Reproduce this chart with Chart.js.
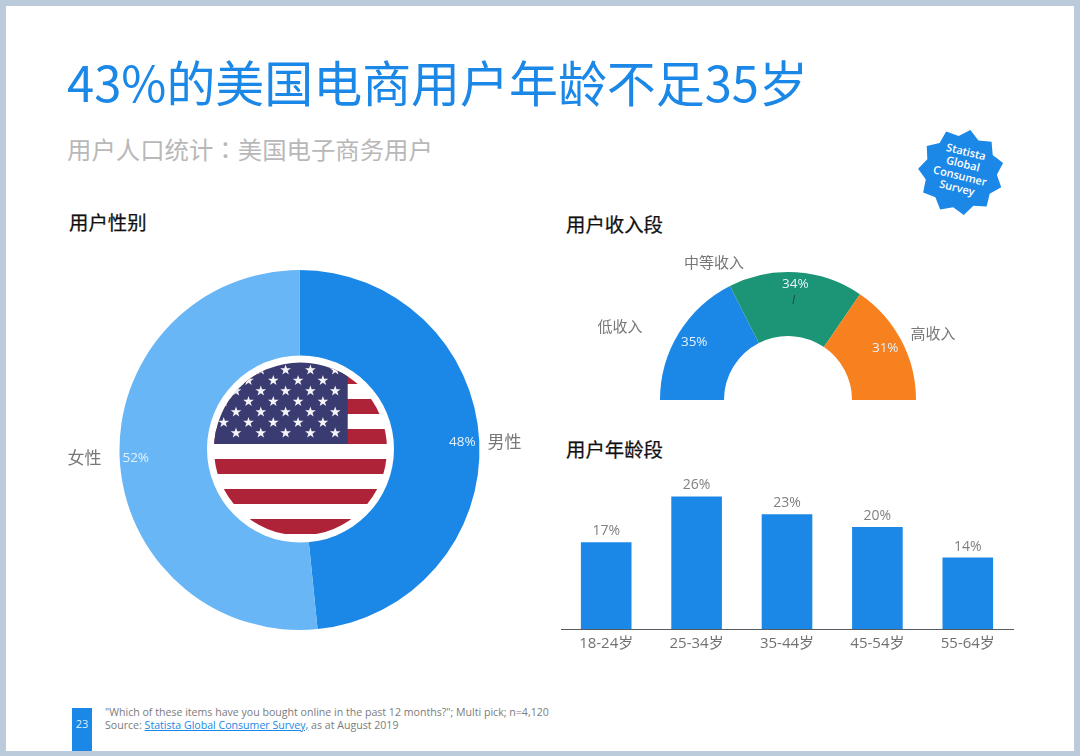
<!DOCTYPE html>
<html lang="zh">
<head>
<meta charset="utf-8">
<title>43%的美国电商用户年龄不足35岁</title>
<script src="https://cdn.jsdelivr.net/npm/chart.js@4/dist/chart.umd.min.js"></script>
<style>
html, body { margin: 0; padding: 0; background: #fff; }
#page {
    position: relative; width: 1080px; height: 756px; overflow: hidden; background: #fff;
    font-family: "Noto Sans CJK SC", "Open Sans", sans-serif;
}
#page > * { position: absolute; }
#frame { left: 0; top: 0; width: 1068px; height: 745px; border: solid #bccbdc; border-width: 6px 6px 5px 6px; }
#title { left: 67px; top: 43px; font-size: 48.95px; line-height: 76px; color: #1b87e6; white-space: nowrap; }
#subtitle { left: 67px; top: 129px; font-size: 24.4px; line-height: 40px; color: #b8b8b8; white-space: nowrap; }
#subtitle span { font-family: "Noto Sans CJK TC", sans-serif; }
.head { font-size: 19.4px; line-height: 28px; color: #111; font-weight: 400; white-space: nowrap; -webkit-text-stroke: 0.25px #111; }
#pageNo { left: 72px; top: 708px; width: 20px; height: 43px; background: #1b87e6; color: #dfeefc; font: 11px/32px "Open Sans", sans-serif; text-align: center; }
#note { left: 105px; top: 706px; font: 10.6px/12.5px "Open Sans", sans-serif; color: #7c7c7c; white-space: nowrap; }
#note a { color: #1b87e6; text-decoration: underline; }
</style>
</head>
<body>
<div id="page">
    <div id="frame"></div>
    <div id="title">43%的美国电商用户年龄不足35岁</div>
    <div id="subtitle">用户人口统计<span lang="zh-TW">：</span>美国电子商务用户</div>
    <div class="head" style="left:69px;top:208px">用户性别</div>
    <div class="head" style="left:566px;top:210px">用户收入段</div>
    <div class="head" style="left:566px;top:435px">用户年龄段</div>

    <canvas id="genderChart" width="500" height="380" style="left:50px;top:260px"></canvas>
    <canvas id="incomeChart" width="396" height="155" style="left:590px;top:245px"></canvas>
    <canvas id="ageChart" width="474" height="185" style="left:550px;top:476px"></canvas>

    <svg id="flag" width="200" height="200" viewBox="0 0 200 200" style="left:200px;top:349px"></svg>
    <svg id="badge" width="100" height="100" viewBox="0 0 100 100" style="left:911px;top:122px"></svg>
    <svg width="6" height="12" style="left:791px;top:294px"><line x1="3.6" y1="1" x2="2" y2="10" stroke="#24483f" stroke-width="1"/></svg>

    <div id="pageNo">23</div>
    <div id="note">"Which of these items have you bought online in the past 12 months?"; Multi pick; n=4,120<br>Source: <a>Statista Global Consumer Survey,</a> as at August 2019</div>
</div>

<script>
// Chart data
const genderLabels = ['男性', '女性'];
const genderShown = [48, 52];
const genderValues = [48.4, 51.6];
const incomeLabels = ['低收入', '中等收入', '高收入'];
const incomeValues = [35, 34, 31];
const ageLabels = ['18-24岁', '25-34岁', '35-44岁', '45-54岁', '55-64岁'];
const ageShown = [17, 26, 23, 20, 14];
const ageValues = [17, 26, 22.5, 20, 14];

const BLUE = '#1b87e6';
const LIGHT_BLUE = '#68b6f6';
const GREEN = '#1c9476';
const ORANGE = '#f7801f';
const GREY = '#777777';
const LATIN = '"Open Sans", sans-serif';
const CJK = '"Noto Sans CJK SC", sans-serif';

// Draws the percent on each slice and the name beside it
const sliceLabels = {
    id: 'sliceLabels',
    afterDatasetsDraw(chart, args, opts) {
        const ctx = chart.ctx;
        ctx.save();
        ctx.textAlign = 'center';
        ctx.textBaseline = 'middle';
        chart.getDatasetMeta(0).data.forEach((arc, i) => {
            const p = arc.getProps(['x', 'y', 'startAngle', 'endAngle']);
            const mid = (p.startAngle + p.endAngle) / 2;
            ctx.fillStyle = opts.valueColor;
            ctx.font = '13.5px ' + LATIN;
            ctx.fillText(opts.shown[i] + '%', p.x + Math.cos(mid) * opts.valueRadius[i], p.y + Math.sin(mid) * opts.valueRadius[i]);
            ctx.fillStyle = GREY;
            ctx.font = opts.nameSize + 'px ' + CJK;
            ctx.fillText(chart.data.labels[i], p.x + opts.nameOffset[i][0], p.y + opts.nameOffset[i][1]);
        });
        ctx.restore();
    }
};

// Percent above each bar
const barLabels = {
    id: 'barLabels',
    afterDatasetsDraw(chart) {
        const ctx = chart.ctx;
        ctx.save();
        ctx.textAlign = 'center';
        ctx.textBaseline = 'middle';
        ctx.fillStyle = '#808080';
        ctx.font = '14px ' + LATIN;
        chart.getDatasetMeta(0).data.forEach((bar, i) => {
            ctx.fillText(ageShown[i] + '%', bar.x, bar.y - 11);
        });
        ctx.restore();
    }
};

const baseOptions = {
    responsive: false,
    animation: false,
    events: [],
    borderColor: 'transparent'
};

new Chart(document.getElementById('genderChart'), {
    type: 'doughnut',
    data: {
        labels: genderLabels,
        datasets: [{ data: genderValues, backgroundColor: [BLUE, LIGHT_BLUE], borderWidth: 0 }]
    },
    options: {
        ...baseOptions,
        cutout: '45%',
        layout: { padding: { left: 69.5, right: 70.5, top: 10, bottom: 10 } },
        plugins: {
            legend: { display: false },
            tooltip: { enabled: false },
            sliceLabels: {
                shown: genderShown,
                valueColor: '#e4f2fd',
                valueRadius: [163, 164],
                nameSize: 17,
                nameOffset: [[205, -8], [-215, 8]]
            }
        }
    },
    plugins: [sliceLabels]
});

new Chart(document.getElementById('incomeChart'), {
    type: 'doughnut',
    data: {
        labels: incomeLabels,
        datasets: [{ data: incomeValues, backgroundColor: [BLUE, GREEN, ORANGE], borderWidth: 0 }]
    },
    options: {
        ...baseOptions,
        rotation: -90,
        circumference: 180,
        cutout: '50%',
        layout: { padding: { left: 70, right: 70, top: 27, bottom: 0 } },
        plugins: {
            legend: { display: false },
            tooltip: { enabled: false },
            sliceLabels: {
                shown: incomeValues,
                valueColor: '#e4f2fd',
                valueRadius: [110, 116, 110],
                nameSize: 15,
                nameOffset: [[-168, -74], [-74, -138], [145, -67]]
            }
        }
    },
    plugins: [sliceLabels]
});

new Chart(document.getElementById('ageChart'), {
    type: 'bar',
    data: {
        labels: ageLabels,
        datasets: [{
            data: ageValues,
            backgroundColor: BLUE,
            categoryPercentage: 1,
            barPercentage: 0.56
        }]
    },
    options: {
        ...baseOptions,
        layout: { padding: { left: 11, right: 11, top: 0, bottom: 0 } },
        scales: {
            x: {
                grid: { display: false },
                border: { color: '#555c63', width: 1 },
                ticks: { color: '#717171', font: { size: 15, family: LATIN + ', ' + CJK }, padding: -2, maxRotation: 0 },
                afterFit(scale) { scale.height = 32; }
            },
            y: { display: false, min: 0, max: 30 }
        },
        plugins: {
            legend: { display: false },
            tooltip: { enabled: false }
        }
    },
    plugins: [barLabels]
});

// Flag picture in the hole of the donut
const SVG_NS = 'http://www.w3.org/2000/svg';
function svgEl(parent, name, attrs) {
    const el = document.createElementNS(SVG_NS, name);
    Object.keys(attrs).forEach(k => el.setAttribute(k, attrs[k]));
    parent.appendChild(el);
    return el;
}
function starPoints(cx, cy, outer, inner, tips, turn) {
    const pts = [];
    for (let i = 0; i < tips * 2; i++) {
        const r = i % 2 ? inner : outer;
        const a = turn + i * Math.PI / tips;
        pts.push((cx + Math.sin(a) * r).toFixed(2) + ',' + (cy - Math.cos(a) * r).toFixed(2));
    }
    return pts.join(' ');
}

const flag = document.getElementById('flag');
svgEl(flag, 'circle', { cx: 100.5, cy: 100, r: 93.5, fill: '#fff' });
const clip = svgEl(svgEl(flag, 'defs', {}), 'clipPath', { id: 'flagClip' });
svgEl(clip, 'circle', { cx: 100.5, cy: 100, r: 86.5 });
const flagBody = svgEl(flag, 'g', { 'clip-path': 'url(#flagClip)' });
[20, 50, 80, 110, 140, 170].forEach(y => {
    svgEl(flagBody, 'rect', { x: 0, y: y, width: 200, height: 15, fill: '#ae2337' });
});
svgEl(flagBody, 'rect', { x: 0, y: 0, width: 147.7, height: 95, fill: '#3a3b70' });
for (let row = 0; row < 7; row++) {
    const odd = row % 2 === 1;
    for (let col = 0; col < 6; col++) {
        const x = (odd ? 23.7 : 36) + col * 24.8;
        if (x > 140) continue;
        svgEl(flagBody, 'polygon', { points: starPoints(x, 21 + row * 10.5, 5.6, 2.2, 5, 0), fill: '#f4f4f8' });
    }
}

// Survey badge in the top right corner
const badge = document.getElementById('badge');
svgEl(badge, 'polygon', { points: starPoints(50, 50, 43, 36, 11, 0.22), fill: BLUE });
const badgeLines = ['Statista', 'Global', 'Consumer', 'Survey'];
badgeLines.forEach((line, i) => {
    const t = svgEl(badge, 'text', {
        x: 50, y: 33 + i * 12.4, 'text-anchor': 'middle', fill: '#fff',
        'font-family': '"Open Sans", sans-serif', 'font-size': 11, 'font-weight': 600,
        transform: 'rotate(14 50 50)'
    });
    t.textContent = line;
});
</script>
</body>
</html>
